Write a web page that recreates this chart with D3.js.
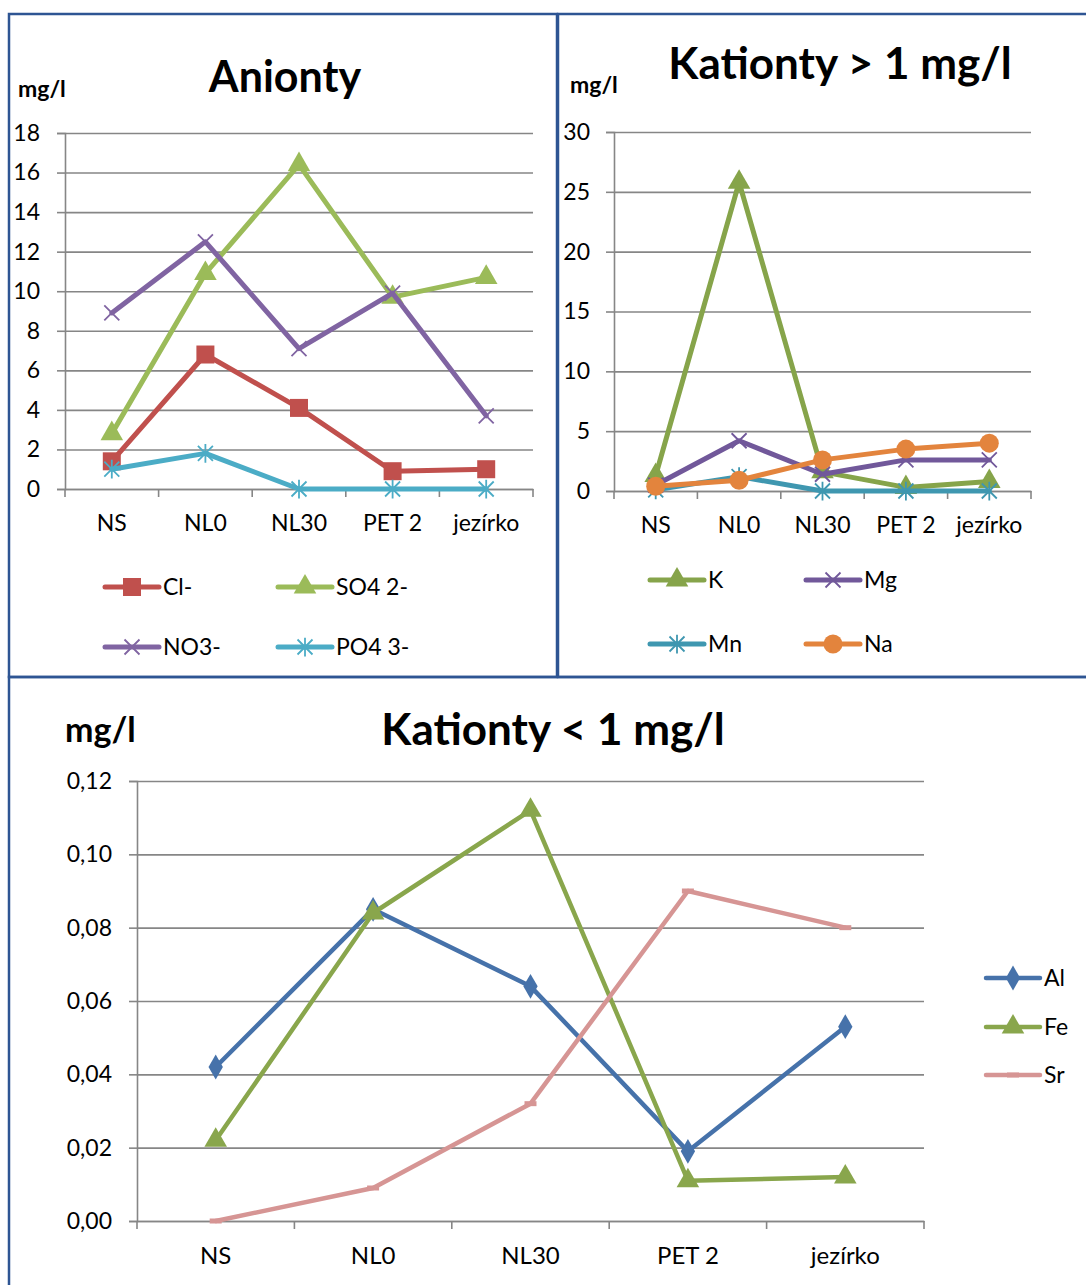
<!DOCTYPE html>
<html>
<head>
<meta charset="utf-8">
<script src="https://cdn.jsdelivr.net/npm/d3@7/dist/d3.min.js"></script>
<style>
  html, body { margin: 0; padding: 0; background: #fff; }
  svg { display: block; font-family: Lato, "Open Sans", "Liberation Sans", sans-serif; }
</style>
</head>
<body>
<svg id="chart" width="1086" height="1285"></svg>
<script>
// Sampling sites
const categories = ["NS", "NL0", "NL30", "PET 2", "jezírko"];

// Anions (mg/l)
const chlorid = [1.4, 6.8, 4.1, 0.9, 1.0];
const sulfat = [2.8, 10.9, 16.4, 9.7, 10.7];
const nitrat = [8.9, 12.5, 7.1, 9.9, 3.7];
const fosfat = [1.0, 1.8, 0.0, 0.0, 0.0];

// Cations above 1 mg/l
const draslik = [1.3, 25.8, 1.6, 0.3, 0.8];
const horcik = [0.5, 4.2, 1.4, 2.6, 2.6];
const mangan = [0.1, 1.2, 0.0, 0.0, 0.0];
const sodik = [0.4, 0.9, 2.6, 3.5, 4.0];

// Cations below 1 mg/l
const hlinik = [0.042, 0.085, 0.064, 0.019, 0.053];
const zelezo = [0.022, 0.084, 0.112, 0.011, 0.012];
const stroncium = [0.000, 0.009, 0.032, 0.090, 0.080];

// Axis ticks
const anionTicks = [0, 2, 4, 6, 8, 10, 12, 14, 16, 18];
const cationHighTicks = [0, 5, 10, 15, 20, 25, 30];
const cationLowTicks = [0, 0.02, 0.04, 0.06, 0.08, 0.10, 0.12];

const svg = d3.select("#chart");
const GRID = "#868686";
const BORDER = "#2e5593";
const FONT = "Lato, 'Open Sans', sans-serif";

// Marker path generators
function markerPath(kind, s) {
  switch (kind) {
    case "square": return d3.symbol(d3.symbolSquare, s * s)();
    case "triangle": return d3.symbol(d3.symbolTriangle, s * s * 0.5)();
    case "circle": return d3.symbol(d3.symbolCircle, Math.PI * s * s / 4)();
    case "diamond": return d3.symbol(d3.symbolDiamond, s * s * 0.55)();
    case "x": {
      const h = s / 2;
      return `M${-h},${-h}L${h},${h}M${-h},${h}L${h},${-h}`;
    }
    case "star": {
      const h = s / 2;
      return `M${-h},${-h}L${h},${h}M${-h},${h}L${h},${-h}M0,${-h * 1.25}L0,${h * 1.25}`;
    }
    case "dash": {
      const h = s / 2;
      return `M${-h},0L${h},0`;
    }
  }
}
const strokedMarkers = new Set(["x", "star", "dash"]);

function drawMarker(g, kind, size, color, x, y, markerStroke) {
  const p = g.append("path")
    .attr("d", markerPath(kind, size))
    .attr("transform", `translate(${x},${y})`);
  if (strokedMarkers.has(kind)) {
    p.attr("fill", "none").attr("stroke", color).attr("stroke-width", markerStroke || 1.8);
  } else {
    p.attr("fill", color);
  }
}

function drawPanel(cfg) {
  const g = svg.append("g");
  const x = d3.scaleBand().domain(categories).range([cfg.left, cfg.right]).padding(0);
  const y = d3.scaleLinear().domain(cfg.domain).range([cfg.bottom, cfg.top]);
  const cx = c => x(c) + x.bandwidth() / 2;
  const w = cfg.right - cfg.left;

  // Horizontal gridlines
  const grid = g.append("g").attr("transform", `translate(${cfg.left},0)`)
    .call(d3.axisLeft(y).tickValues(cfg.ticks).tickSize(-w).tickFormat(""));
  grid.select(".domain").remove();
  grid.selectAll("line").attr("stroke", GRID).attr("stroke-width", 1.6);

  // Y axis with outward ticks
  const ya = g.append("g").attr("transform", `translate(${cfg.left},0)`)
    .call(d3.axisLeft(y).tickValues(cfg.ticks).tickSize(8).tickPadding(cfg.yPad).tickFormat(cfg.fmt));
  ya.select(".domain").attr("stroke", GRID).attr("stroke-width", 1.6);
  ya.selectAll("line").attr("stroke", GRID).attr("stroke-width", 1.6);
  ya.selectAll("text").attr("fill", "#000").attr("font-size", cfg.yFont).attr("font-family", FONT);

  // X axis: labels at band centres, tick marks at band boundaries
  const xa = g.append("g").attr("transform", `translate(0,${cfg.bottom})`)
    .call(d3.axisBottom(x).tickSize(0).tickPadding(cfg.xPad));
  xa.select(".domain").attr("stroke", GRID).attr("stroke-width", 1.6);
  xa.selectAll("text").attr("fill", "#000").attr("font-size", cfg.xFont).attr("font-family", FONT);
  const bounds = categories.map(c => x(c)).concat([x.range()[1]]);
  g.append("g").selectAll("line").data(bounds).join("line")
    .attr("x1", d => d).attr("x2", d => d)
    .attr("y1", cfg.bottom).attr("y2", cfg.bottom + 8)
    .attr("stroke", GRID).attr("stroke-width", 1.6);

  // Series lines and markers
  const line = d3.line().x((d, i) => cx(categories[i])).y(d => y(d));
  cfg.series.forEach(s => {
    g.append("path").datum(s.values)
      .attr("d", line)
      .attr("fill", "none")
      .attr("stroke", s.color)
      .attr("stroke-width", cfg.lineWidth)
      .attr("stroke-linejoin", "round")
      .attr("stroke-linecap", "round");
    s.values.forEach((v, i) => {
      drawMarker(g, s.marker, s.size, s.markerColor || s.color, cx(categories[i]), y(v), s.markerStroke);
    });
  });

  // Legend
  cfg.series.forEach((s, i) => {
    const pos = cfg.legendPos[i];
    g.append("line")
      .attr("x1", pos[0]).attr("x2", pos[0] + cfg.legendLen)
      .attr("y1", pos[1]).attr("y2", pos[1])
      .attr("stroke", s.color).attr("stroke-width", cfg.lineWidth)
      .attr("stroke-linecap", "round");
    drawMarker(g, s.marker, s.size, s.markerColor || s.color, pos[0] + cfg.legendLen / 2, pos[1], s.markerStroke);
    g.append("text")
      .attr("x", pos[0] + cfg.legendLen + 4).attr("y", pos[1])
      .attr("dy", "0.35em")
      .attr("font-size", cfg.legendFont)
      .attr("fill", "#000")
      .text(s.name);
  });

  // Title and unit label
  g.append("text")
    .attr("x", cfg.titleX).attr("y", cfg.titleY)
    .attr("text-anchor", "middle")
    .attr("font-size", cfg.titleSize).attr("font-weight", "bold")
    .text(cfg.title);
  g.append("text")
    .attr("x", cfg.unitX).attr("y", cfg.unitY)
    .attr("font-size", cfg.unitSize).attr("font-weight", "bold")
    .text("mg/l");
}

// Panel frames
svg.append("rect").attr("x", 9).attr("y", 14).attr("width", 548).attr("height", 663)
  .attr("fill", "none").attr("stroke", BORDER).attr("stroke-width", 2.5);
svg.append("rect").attr("x", 558).attr("y", 14).attr("width", 540).attr("height", 663)
  .attr("fill", "none").attr("stroke", BORDER).attr("stroke-width", 2.5);
svg.append("rect").attr("x", 9).attr("y", 677).attr("width", 1090).attr("height", 620)
  .attr("fill", "none").attr("stroke", BORDER).attr("stroke-width", 2.5);

// Anionty
drawPanel({
  left: 65, right: 533, top: 133, bottom: 489,
  domain: [0, 18], ticks: anionTicks, fmt: d3.format("d"),
  yPad: 17, xPad: 26, yFont: 23, xFont: 23, lineWidth: 5,
  title: "Anionty", titleX: 285, titleY: 92, titleSize: 43,
  unitX: 18, unitY: 97, unitSize: 23,
  legendLen: 54, legendFont: 23,
  legendPos: [[105, 587], [278, 587], [105, 647], [278, 647]],
  series: [
    { name: "Cl-", values: chlorid, color: "#c0504d", marker: "square", size: 18 },
    { name: "SO4 2-", values: sulfat, color: "#9bbb59", marker: "triangle", size: 21 },
    { name: "NO3-", values: nitrat, color: "#8064a2", marker: "x", size: 15 },
    { name: "PO4 3-", values: fosfat, color: "#4bacc6", marker: "star", size: 15 }
  ]
});

// Kationty > 1 mg/l
drawPanel({
  left: 614, right: 1031, top: 132, bottom: 491,
  domain: [0, 30], ticks: cationHighTicks, fmt: d3.format("d"),
  yPad: 16, xPad: 26, yFont: 23, xFont: 23, lineWidth: 5,
  title: "Kationty > 1 mg/l", titleX: 840, titleY: 79, titleSize: 44,
  unitX: 570, unitY: 93, unitSize: 23,
  legendLen: 54, legendFont: 23,
  legendPos: [[650, 580], [806, 580], [650, 644], [806, 644]],
  series: [
    { name: "K", values: draslik, color: "#86a44a", marker: "triangle", size: 21 },
    { name: "Mg", values: horcik, color: "#71589a", marker: "x", size: 15 },
    { name: "Mn", values: mangan, color: "#3f97b0", marker: "star", size: 15 },
    { name: "Na", values: sodik, color: "#e3843d", marker: "circle", size: 19 }
  ]
});

// Kationty < 1 mg/l
drawPanel({
  left: 137, right: 924, top: 781, bottom: 1221,
  domain: [0, 0.12], ticks: cationLowTicks, fmt: d => d3.format(".2f")(d).replace(".", ","),
  yPad: 17, xPad: 26, yFont: 23, xFont: 24, lineWidth: 4.5,
  title: "Kationty < 1 mg/l", titleX: 553, titleY: 745, titleSize: 44,
  unitX: 65, unitY: 742, unitSize: 34,
  legendLen: 54, legendFont: 23,
  legendPos: [[986, 978], [986, 1027], [986, 1075]],
  series: [
    { name: "Al", values: hlinik, color: "#4672aa", marker: "diamond", size: 18 },
    { name: "Fe", values: zelezo, color: "#89a64c", marker: "triangle", size: 21 },
    { name: "Sr", values: stroncium, color: "#d69594", marker: "dash", size: 12, markerStroke: 5 }
  ]
});
</script>
</body>
</html>
